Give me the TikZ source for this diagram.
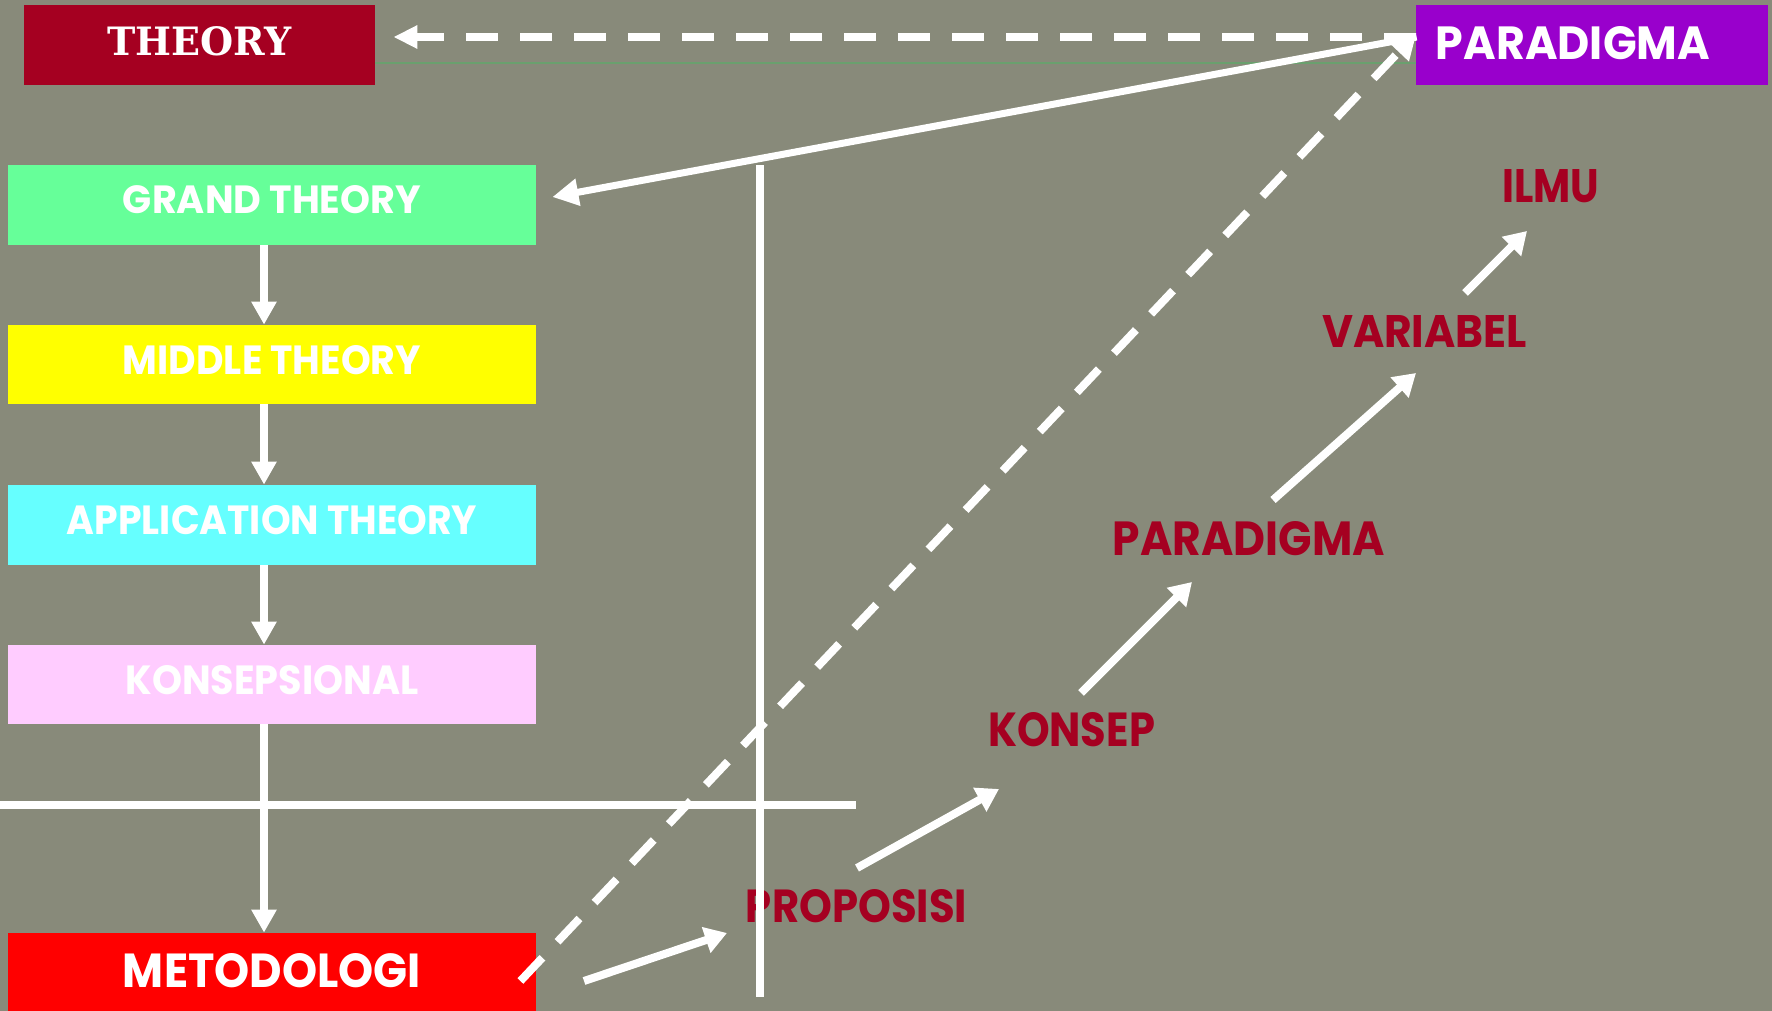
\documentclass[tikz,border=0pt]{standalone}
\usepackage{fontspec}
\setmainfont{Poppins}
\newfontfamily\slabfont{DejaVu Serif}
\usetikzlibrary{arrows.meta}

\definecolor{bgolive}{RGB}{136,138,122}
\definecolor{wine}{RGB}{165,0,33}
\definecolor{boxpurple}{RGB}{153,0,204}
\definecolor{boxgreen}{RGB}{102,255,153}
\definecolor{boxyellow}{RGB}{255,255,0}
\definecolor{boxcyan}{RGB}{102,255,255}
\definecolor{boxpink}{RGB}{255,204,255}
\definecolor{boxred}{RGB}{255,0,0}
\definecolor{rulegreen}{RGB}{106,160,110}

% bold caps squeezed to a given width and cap height (in pt)
\newcommand\fittext[3]{\resizebox{#1pt}{#2pt}{\bfseries #3}}

\begin{document}
\begin{tikzpicture}[x=0.5pt,y=-0.5pt,
  box/.style={inner sep=0pt, minimum width=264pt, minimum height=40pt, text=white, text depth=5pt},
  lbl/.style={inner sep=0pt, text=wine},
  wline/.style={white, line width=4pt},
  downarrow/.style={white, line width=4pt, -{Triangle[length=11.5pt,width=12pt]}},
  chain/.style={white, line width=4pt, -{Triangle[length=11pt,width=13pt]}},
  dashedwhite/.style={white, line width=4pt, dash pattern=on 16pt off 11pt},
  thinrule/.style={rulegreen, line width=0.9pt}]

\fill[bgolive] (0,0) rectangle (1772,1011);
\useasboundingbox (0,0) rectangle (1772,1011);

% header boxes
\node[box, fill=wine, minimum width=175.5pt, text depth=3.5pt] (theory) at (199.5,45)
  {\slabfont\fittext{92}{14.5}{THEORY}};
\node[box, fill=boxpurple, minimum width=176pt] (paradigma) at (1592,45) {};
\node[inner sep=0pt, text=white] (paradigmatext) at (1573,43)
  {\fittext{137}{16.5}{PARADIGMA}};

% theory levels
\node[box, fill=boxgreen, text depth=6pt] (grand) at (272,205) {\fittext{149}{14}{GRAND THEORY}};
\node[box, fill=boxyellow, minimum height=39.5pt] (middle) at (272,364.5)
  {\fittext{149}{14.5}{MIDDLE THEORY}};
\node[box, fill=boxcyan] (application) at (272,525)
  {\fittext{205}{14.5}{APPLICATION THEORY}};
\node[box, fill=boxpink, minimum height=39.5pt] (konsepsional) at (272,684.5)
  {\fittext{146.5}{14.5}{KONSEPSIONAL}};
\node[box, fill=boxred, minimum height=39pt, text depth=2pt] (metod) at (272,972)
  {\fittext{149}{17}{METODOLOGI}};

% ladder of concepts
\node[lbl] (ilmu) at (1551,186.5) {\fittext{48.5}{16.5}{ILMU}};
\node[lbl] (variabel) at (1424.5,331) {\fittext{102.5}{16}{VARIABEL}};
\node[lbl] (pardlabel) at (1249,539) {\fittext{136}{17}{PARADIGMA}};
\node[lbl] (konsep) at (1071.5,730) {\fittext{83.5}{17}{KONSEP}};
\node[lbl] (proposisi) at (856.5,906.5) {\fittext{110.5}{16.5}{PROPOSISI}};

% cross of rules
\coordinate (vtop) at (760,165);
\coordinate (vbot) at (760,997);
\coordinate (hleft) at (0,805);
\coordinate (hright) at (856,805);
\draw[wline] (vtop) -- (vbot);
\draw[wline] (hleft) -- (hright);

% thin rule under the header
\draw[thinrule] ([shift={(0,18)}]theory.east) -- ([shift={(0,18)}]paradigma.west);

% downward chain of theory levels
\draw[downarrow] ([shift={(-8,0)}]grand.south) -- ([shift={(-8,0)}]middle.north);
\draw[downarrow] ([shift={(-8,0)}]middle.south) -- ([shift={(-8,0)}]application.north);
\draw[downarrow] ([shift={(-8,0)}]application.south) -- ([shift={(-8,0)}]konsepsional.north);
\draw[downarrow] ([shift={(-8,0)}]konsepsional.south) -- ([shift={(-8,0)}]metod.north);

% paradigm links
\draw[dashedwhite, -{Triangle[length=12pt,width=11pt]}]
  ([shift={(0,-8)}]paradigma.west) -- ([shift={(18,-8)}]theory.east);
\draw[white, line width=3.5pt, -{Triangle[length=13pt,width=13pt]}]
  ([shift={(1,-8)}]paradigma.west) -- ([shift={(16,-8)}]grand.east);
\draw[dashedwhite, -{Triangle[length=13pt,width=13pt]}]
  ([shift={(-16,9)}]metod.east) -- ([shift={(1,-12)}]paradigma.west);

% from method up to science
\draw[chain] ([shift={(312,9)}]metod.center) -- ([shift={(-129.5,26.5)}]proposisi.center);
\draw[chain] ([shift={(0.5,-38.5)}]proposisi.center) -- ([shift={(-72.5,59)}]konsep.center);
\draw[chain] ([shift={(9.5,-37)}]konsep.center) -- ([shift={(-57,43)}]pardlabel.center);
\draw[chain] ([shift={(24,-39)}]pardlabel.center) -- ([shift={(-8.5,42)}]variabel.center);
\draw[chain] ([shift={(40.5,-38)}]variabel.center) -- ([shift={(-24,44.5)}]ilmu.center);
\end{tikzpicture}
\end{document}
